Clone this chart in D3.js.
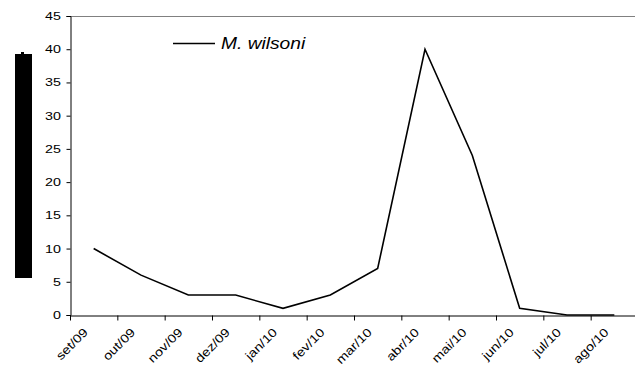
<!DOCTYPE html>
<html>
<head>
<meta charset="utf-8">
<script src="https://cdn.jsdelivr.net/npm/d3@7"></script>
<style>
  body { margin: 0; background: #fff; }
  text { font-family: "Liberation Sans", Arial, sans-serif; fill: #000; }
</style>
</head>
<body>
<div id="chart"></div>
<script>
const months = ["set/09", "out/09", "nov/09", "dez/09", "jan/10", "fev/10",
  "mar/10", "abr/10", "mai/10", "jun/10", "jul/10", "ago/10"];
const wilsoni = [10, 6, 3, 3, 1, 3, 7, 40, 24, 1, 0, 0];
const yTicks = [0, 5, 10, 15, 20, 25, 30, 35, 40, 45];
const seriesName = "M. wilsoni";

const width = 635, height = 371;
const plotLeft = 70, plotRight = 638, plotTop = 16, plotBottom = 315;

const svg = d3.select("#chart").append("svg")
  .attr("width", width)
  .attr("height", height);

const x = d3.scaleBand().domain(months).range([plotLeft, plotRight]).padding(0);
const y = d3.scaleLinear().domain([0, 45]).range([plotBottom, plotTop]);

// top border of the plot area
svg.append("line")
  .attr("x1", plotLeft).attr("x2", plotRight)
  .attr("y1", y(45) + 0.5).attr("y2", y(45) + 0.5)
  .attr("stroke", "#808080").attr("stroke-width", 1);

// y axis
const yAxis = svg.append("g")
  .attr("transform", `translate(${plotLeft + 0.5},0)`)
  .call(d3.axisLeft(y).tickValues(yTicks).tickSize(4).tickFormat(""));
yAxis.select(".domain").attr("stroke", "#000");
yAxis.selectAll(".tick line").attr("stroke", "#000");

svg.append("g").selectAll("text")
  .data(yTicks).enter()
  .append("text")
  .attr("text-anchor", "end")
  .attr("dy", "0.36em")
  .attr("transform", d => `translate(61,${y(d)}) scale(1.3,1)`)
  .style("font-size", "11px")
  .text(d => d);

// x axis with ticks between categories
const xAxis = svg.append("g")
  .attr("transform", `translate(0,${plotBottom + 0.5})`)
  .call(d3.axisBottom(x).tickSize(0).tickFormat(""));
xAxis.select(".domain").attr("stroke", "#000");
xAxis.selectAll(".tick").remove();
xAxis.selectAll(".sep")
  .data(months).enter()
  .append("line")
  .attr("x1", d => x(d) + 0.5).attr("x2", d => x(d) + 0.5)
  .attr("y1", 0).attr("y2", 5)
  .attr("stroke", "#000");

svg.append("g").selectAll("text")
  .data(months).enter()
  .append("text")
  .attr("text-anchor", "end")
  .attr("transform", d => `translate(${x(d) + x.bandwidth() / 2 - 5},${plotBottom + 18}) rotate(-45) scale(1.2,1)`)
  .style("font-size", "12px")
  .text(d => d);

// series line
const line = d3.line()
  .x((d, i) => x(months[i]) + x.bandwidth() / 2)
  .y(d => y(d));

svg.append("path")
  .datum(wilsoni)
  .attr("fill", "none")
  .attr("stroke", "#000")
  .attr("stroke-width", 1.6)
  .attr("stroke-linejoin", "miter")
  .attr("d", line);

// legend
svg.append("line")
  .attr("x1", 173).attr("x2", 215)
  .attr("y1", 43.5).attr("y2", 43.5)
  .attr("stroke", "#000").attr("stroke-width", 1.6);
svg.append("text")
  .attr("transform", "translate(221,48.5) scale(1.2,1)")
  .style("font-size", "16px")
  .style("font-style", "italic")
  .text(seriesName);

// blacked-out axis title
svg.append("rect")
  .attr("x", 15).attr("y", 54)
  .attr("width", 17).attr("height", 224)
  .attr("fill", "#000");
svg.append("rect")
  .attr("x", 21).attr("y", 52)
  .attr("width", 3).attr("height", 2)
  .attr("fill", "#000");
</script>
</body>
</html>
